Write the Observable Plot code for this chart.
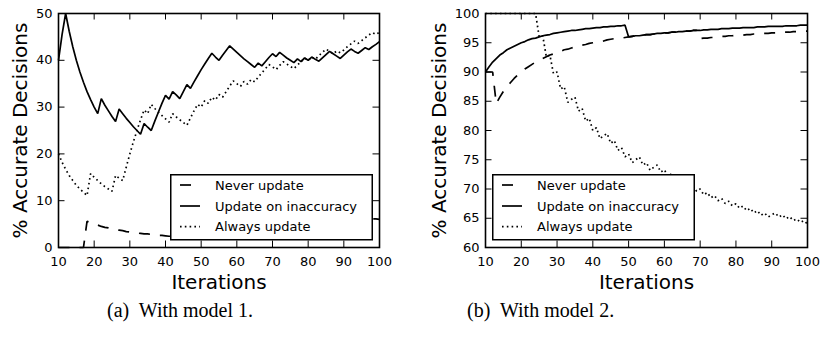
<!DOCTYPE html>
<html><head><meta charset="utf-8">
<script src="https://cdn.jsdelivr.net/npm/d3@7"></script>
<script src="https://cdn.jsdelivr.net/npm/@observablehq/plot@0.6"></script>
<style>
html,body{margin:0;padding:0;background:#fff;}
#root{position:relative;width:822px;height:347px;overflow:hidden;background:#fff;font-family:"DejaVu Sans",sans-serif;}
.panel{position:absolute;top:0;}
.panel svg{overflow:visible;max-width:none;}
.legend{position:absolute;overflow:visible;}
.caption{position:absolute;font-family:"Liberation Serif","Times New Roman",serif;font-size:20px;white-space:pre;color:#000;}
</style></head><body><div id="root"></div>
<script>
const iterations = [10,11,12,13,14,15,16,17,18,19,20,21,22,23,24,25,26,27,28,29,30,31,32,33,34,35,36,37,38,39,40,41,42,43,44,45,46,47,48,49,50,51,52,53,54,55,56,57,58,59,60,61,62,63,64,65,66,67,68,69,70,71,72,73,74,75,76,77,78,79,80,81,82,83,84,85,86,87,88,89,90,91,92,93,94,95,96,97,98,99,100];
const seriesNames = ["Never update", "Update on inaccuracy", "Always update"];

// Model 1
const m1Never = [0,0,0,0,0,0,0,0,5.6,5.3,5.0,4.8,4.5,4.3,4.2,4.0,3.8,3.7,3.6,3.4,3.3,3.2,3.1,3.0,2.9,2.9,2.8,2.7,2.6,2.6,2.5,2.4,2.4,2.3,2.3,2.2,2.2,2.1,2.1,2.0,2.0,2.0,1.9,1.9,1.9,3.6,3.6,3.5,3.4,3.4,3.3,3.3,3.2,3.2,3.1,3.1,3.0,3.0,2.9,2.9,4.3,4.2,4.2,4.1,4.1,4.0,3.9,3.9,3.8,3.8,3.8,4.9,4.9,4.8,4.8,4.7,4.7,4.6,4.5,4.5,5.6,5.5,5.4,5.4,5.3,5.3,5.2,6.2,6.1,6.1,6.0];
const m1Update = [40.0,45.5,50.0,46.2,42.9,40.0,37.5,35.3,33.3,31.6,30.0,28.6,31.8,30.4,29.2,28.0,26.9,29.6,28.6,27.6,26.7,25.8,25.0,24.2,26.5,25.7,25.0,27.0,28.9,30.8,32.5,31.7,33.3,32.6,31.8,33.3,34.8,34.0,35.4,36.7,38.0,39.2,40.4,41.5,40.7,40.0,41.1,42.1,43.1,42.4,41.7,41.0,40.3,39.7,39.1,38.5,39.4,38.8,39.7,40.6,41.4,40.8,41.7,41.1,40.5,40.0,39.5,40.3,39.7,40.5,40.0,40.7,40.2,39.8,40.5,41.2,41.9,41.4,40.9,40.4,41.1,41.8,42.4,41.9,41.5,42.1,42.7,42.3,42.9,43.4,44.0];
const m1Always = [20.0,18.2,16.7,15.4,14.3,13.3,12.5,11.8,11.1,15.8,15.0,14.3,13.6,13.0,12.5,12.0,15.4,14.8,14.3,17.2,20.0,22.6,25.0,27.3,29.4,28.6,30.6,29.7,28.9,28.2,27.5,26.8,28.6,27.9,27.3,26.7,26.1,27.7,29.2,30.6,30.0,31.4,30.8,32.1,31.5,32.7,32.1,33.3,34.5,35.6,35.0,34.4,35.5,34.9,35.9,35.4,36.4,37.3,38.2,39.1,38.6,38.0,38.9,39.7,39.2,38.7,38.2,39.0,39.7,40.5,40.0,40.7,40.2,41.0,41.7,42.4,41.9,41.4,42.0,41.6,42.2,42.9,43.5,44.1,43.6,44.2,44.8,45.4,45.9,45.5,46.0];

// Model 2
const m2Never = [90.0,90.0,90.0,84.6,85.7,86.7,87.5,88.2,88.9,89.5,90.0,90.5,90.9,91.3,91.7,92.0,92.3,92.6,92.9,93.1,93.3,93.5,93.8,93.9,94.1,94.3,94.4,94.6,94.7,94.9,95.0,95.1,95.2,95.3,95.5,95.6,95.7,95.7,95.8,95.9,96.0,96.1,96.2,96.2,96.3,96.4,96.4,96.5,96.6,96.6,96.7,96.7,96.8,96.8,96.9,96.9,97.0,97.0,97.1,97.1,95.7,95.8,95.8,95.9,95.9,96.0,96.1,96.1,96.2,96.2,96.3,96.3,96.3,96.4,96.4,96.5,96.5,96.6,96.6,96.6,96.7,96.7,96.7,96.8,96.8,96.8,96.9,96.9,96.9,97.0,97.0];
const m2Update = [90.0,90.9,91.7,92.3,92.9,93.3,93.8,94.1,94.4,94.7,95.0,95.2,95.5,95.7,95.8,96.0,96.2,96.3,96.4,96.6,96.7,96.8,96.9,97.0,97.1,97.1,97.2,97.3,97.4,97.4,97.5,97.6,97.6,97.7,97.7,97.8,97.8,97.9,97.9,98.0,96.0,96.1,96.2,96.2,96.3,96.4,96.4,96.5,96.6,96.6,96.7,96.7,96.8,96.8,96.9,96.9,97.0,97.0,97.1,97.1,97.1,97.2,97.2,97.3,97.3,97.3,97.4,97.4,97.4,97.5,97.5,97.5,97.6,97.6,97.6,97.6,97.7,97.7,97.7,97.8,97.8,97.8,97.8,97.8,97.9,97.9,97.9,97.9,98.0,98.0,98.0];
const m2Always = [100,100,100,100,100,100,100,100,100,100,100,100,100,100,100,96.0,96.2,92.6,92.9,89.7,90.0,87.1,87.5,84.8,85.3,85.7,83.3,83.8,81.6,82.1,80.0,80.5,78.6,79.1,79.5,77.8,78.3,76.6,77.1,75.5,76.0,74.5,75.0,75.5,74.1,74.5,73.2,73.7,74.1,72.9,73.3,72.1,72.6,71.4,71.9,70.8,71.2,70.1,70.6,69.6,70.0,69.0,69.4,68.5,68.9,68.0,68.4,67.5,67.9,67.1,67.5,66.7,67.1,66.3,66.7,65.9,66.3,65.5,65.9,65.2,65.6,65.9,65.2,65.6,64.9,65.3,64.6,64.9,64.3,64.6,64.0];

const xTicks = [10,20,30,40,50,60,70,80,90,100];
const yTicks1 = [0,10,20,30,40,50];
const yTicks2 = [60,65,70,75,80,85,90,95,100];
const xLabel = "Iterations";
const yLabel = "% Accurate Decisions";
const captions = ["(a)  With model 1.", "(b)  With model 2."];

const dashOf = ["11,10", null, "1.6,3.2"];

const root = document.getElementById("root");
const H = 300, MT = 13, MB = 53;
const innerH = H - MT - MB;

function panel({values, yDomain, yTicks, width, marginLeft, marginRight, yLabelDx}) {
  const innerW = width - marginLeft - marginRight;
  const rows = [];
  seriesNames.forEach((s, i) => iterations.forEach((x, j) => rows.push({series: s, x, y: values[i][j]})));
  const lines = seriesNames.map((s, i) => Plot.line(rows.filter(r => r.series === s), {
    x: "x", y: "y", stroke: "black", strokeWidth: 1.7,
    strokeDasharray: dashOf[i] || undefined, strokeLinejoin: "miter", strokeLinecap: "butt"
  }));
  return Plot.plot({
    width, height: H, marginTop: MT, marginBottom: MB, marginLeft, marginRight,
    x: {domain: [10, 100]}, y: {domain: yDomain},
    style: {fontFamily: "DejaVu Sans", fontSize: "13px", color: "black", background: "white", overflow: "visible"},
    marks: [
      ...lines,
      Plot.tickX(xTicks, {x: d => d, insetTop: innerH - 6.5, stroke: "black", strokeWidth: 1}),
      Plot.tickX(xTicks, {x: d => d, insetBottom: innerH - 6.5, stroke: "black", strokeWidth: 1}),
      Plot.tickY(yTicks, {y: d => d, insetRight: innerW - 6.5, stroke: "black", strokeWidth: 1}),
      Plot.tickY(yTicks, {y: d => d, insetLeft: innerW - 6.5, stroke: "black", strokeWidth: 1}),
      Plot.frame({stroke: "black", strokeWidth: 1.6}),
      Plot.axisX({ticks: xTicks, tickSize: 0, tickPadding: 9, fontSize: 13, label: null, fill: "black"}),
      Plot.axisY({ticks: yTicks, tickSize: 0, tickPadding: 6, fontSize: 13, label: null, fill: "black"}),
      Plot.text([xLabel], {frameAnchor: "bottom", dy: 34.6, fontSize: 20, fill: "black", textAnchor: "middle", lineAnchor: "middle"}),
      Plot.text([yLabel], {frameAnchor: "left", dx: yLabelDx, rotate: -90, fontSize: 20, fill: "black", textAnchor: "middle", lineAnchor: "middle"})
    ]
  });
}

function addPanel(left, chart) {
  const div = document.createElement("div");
  div.className = "panel";
  div.style.left = left + "px";
  div.appendChild(chart);
  root.appendChild(div);
}

addPanel(0, panel({values: [m1Never, m1Update, m1Always], yDomain: [0, 50], yTicks: yTicks1, width: 411, marginLeft: 58, marginRight: 32, yLabelDx: -37.9}));
addPanel(411, panel({values: [m2Never, m2Update, m2Always], yDomain: [60, 100], yTicks: yTicks2, width: 411, marginLeft: 74, marginRight: 15, yLabelDx: -46.4}));

function addLegend(left, top) {
  const w = 204, h = 67;
  const svg = d3.create("svg").attr("class", "legend").attr("width", w).attr("height", h)
    .style("left", left + "px").style("top", top + "px");
  svg.append("rect").attr("x", 0.75).attr("y", 0.75).attr("width", w - 1.5 - 1).attr("height", h - 1.5 - 0.5)
    .attr("fill", "white").attr("stroke", "black").attr("stroke-width", 1.5);
  const rowY = [11, 32, 52.7];
  seriesNames.forEach((s, i) => {
    svg.append("line").attr("x1", 10).attr("x2", 30).attr("y1", rowY[i]).attr("y2", rowY[i])
      .attr("stroke", "black").attr("stroke-width", 1.7)
      .attr("stroke-dasharray", dashOf[i] || null);
    svg.append("text").attr("x", 45).attr("y", rowY[i] + 4.6)
      .attr("font-family", "DejaVu Sans").attr("font-size", 13).attr("fill", "black").text(s);
  });
  root.appendChild(svg.node());
}
addLegend(170, 174);
addLegend(492, 174);

[[107, captions[0]], [467, captions[1]]].forEach(([left, t]) => {
  const d = document.createElement("div");
  d.className = "caption";
  d.style.left = left + "px";
  d.style.top = "299px";
  d.textContent = t;
  root.appendChild(d);
});
</script>
</body></html>
